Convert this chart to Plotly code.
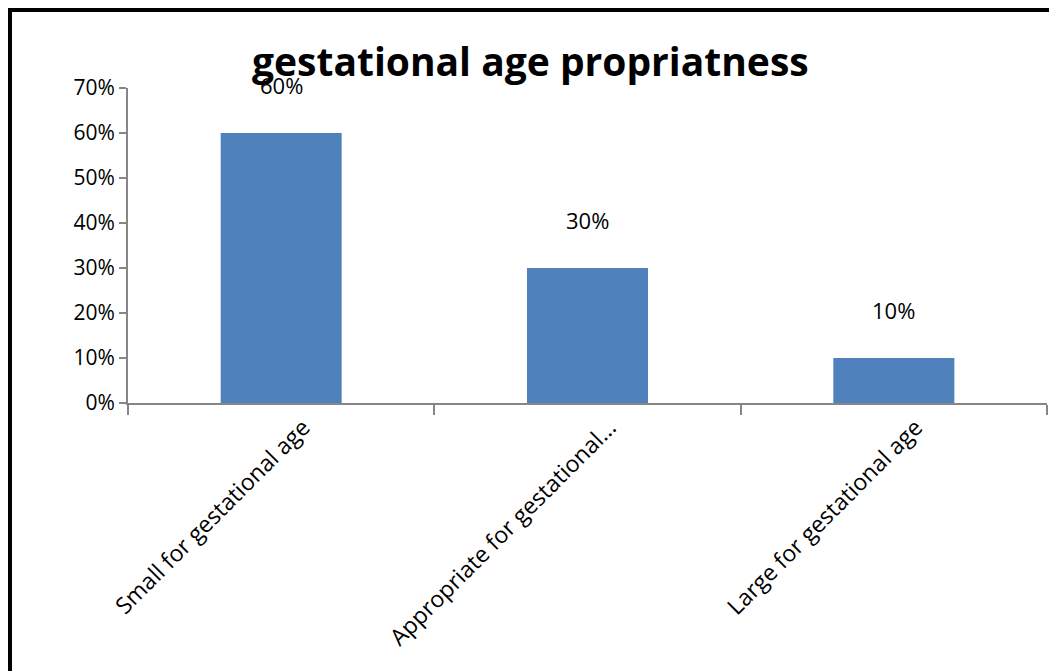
import plotly.graph_objects as go

categories = ["Small for gestational age", "Appropriate for gestational...", "Large for gestational age"]
values = [0.60, 0.30, 0.10]
labels = ["60%", "30%", "10%"]

W, H = 1049, 671
ml, mr, mt, mb = 128, 2, 88, 268
pw, ph = W - ml - mr, H - mt - mb

def px_x(p):
    return (p - ml) / pw

def px_y(p):
    return (H - mb - p) / ph

fig = go.Figure()
fig.add_trace(go.Bar(
    x=categories, y=values,
    marker=dict(color="#4F81BD", line=dict(width=0)),
    width=0.395,
))

for c, v, t in zip(categories, values, labels):
    fig.add_annotation(x=c, y=v, text=t, showarrow=False, yshift=48,
                       font=dict(family="Open Sans", size=22, color="#000000"))

fig.add_annotation(xref="paper", yref="paper", x=px_x(530), y=px_y(60),
                   text="<b>gestational age propriatness</b>", showarrow=False,
                   font=dict(family="Open Sans", size=39, color="#000000"),
                   xanchor="center", yanchor="middle")

# outer frame (left and top edges)
fig.add_shape(type="line", xref="paper", yref="paper",
              x0=px_x(10), x1=px_x(10), y0=px_y(10), y1=px_y(H + 5),
              line=dict(color="#000000", width=4))
fig.add_shape(type="line", xref="paper", yref="paper",
              x0=px_x(8), x1=px_x(W + 5), y0=px_y(10), y1=px_y(10),
              line=dict(color="#000000", width=4))

fig.update_layout(
    width=W, height=H,
    margin=dict(l=ml, r=mr, t=mt, b=mb),
    paper_bgcolor="white", plot_bgcolor="white",
    showlegend=False,
    bargap=0.6,
)
fig.update_yaxes(range=[0, 0.7], dtick=0.1, tickformat=".0%",
                 showgrid=False, zeroline=False,
                 showline=True, linecolor="#868686", linewidth=2,
                 ticks="outside", ticklen=7, tickcolor="#868686", tickwidth=2,
                 tickfont=dict(family="Open Sans", size=21, color="#000000"))
fig.update_xaxes(showgrid=False, showline=True, linecolor="#868686", linewidth=2,
                 ticks="outside", tickson="boundaries", ticklen=10,
                 tickcolor="#868686", tickwidth=2, tickangle=-45,
                 ticklabelshift=22,
                 tickfont=dict(family="Open Sans", size=23, color="#000000"))

fig.write_html("out.html")
